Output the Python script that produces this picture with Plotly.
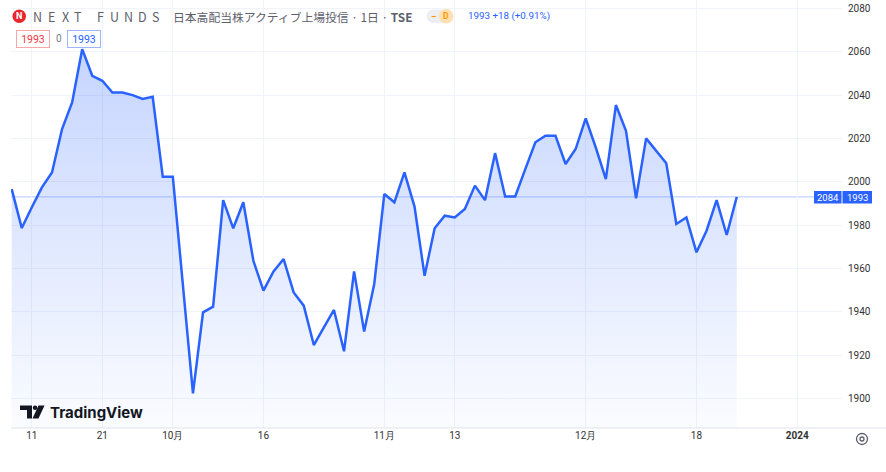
import plotly.graph_objects as go

# ---------------- data ----------------
dates = [
    "2023-09-07", "2023-09-08", "2023-09-11", "2023-09-12", "2023-09-13", "2023-09-14", "2023-09-15",
    "2023-09-19", "2023-09-20", "2023-09-21", "2023-09-22", "2023-09-25", "2023-09-26", "2023-09-27",
    "2023-09-28", "2023-09-29", "2023-10-02", "2023-10-03", "2023-10-04", "2023-10-05", "2023-10-06",
    "2023-10-10", "2023-10-11", "2023-10-12", "2023-10-13", "2023-10-16", "2023-10-17", "2023-10-18",
    "2023-10-19", "2023-10-20", "2023-10-23", "2023-10-24", "2023-10-25", "2023-10-26", "2023-10-27",
    "2023-10-30", "2023-10-31", "2023-11-01", "2023-11-02", "2023-11-06", "2023-11-07", "2023-11-08",
    "2023-11-09", "2023-11-10", "2023-11-13", "2023-11-14", "2023-11-15", "2023-11-16", "2023-11-17",
    "2023-11-20", "2023-11-21", "2023-11-22", "2023-11-24", "2023-11-27", "2023-11-28", "2023-11-29",
    "2023-11-30", "2023-12-01", "2023-12-04", "2023-12-05", "2023-12-06", "2023-12-07", "2023-12-08",
    "2023-12-11", "2023-12-12", "2023-12-13", "2023-12-14", "2023-12-15", "2023-12-18", "2023-12-19",
    "2023-12-20", "2023-12-21", "2023-12-22",
]
future_dates = [
    "2023-12-25", "2023-12-26", "2023-12-27", "2023-12-28", "2023-12-29",
    "2024-01-04", "2024-01-05", "2024-01-09", "2024-01-10", "2024-01-11", "2024-01-12",
]
closes = [
    1996.6, 1978.6, 1988.2, 1997.4, 2004.3, 2024.3, 2036.6,
    2061.2, 2048.9, 2046.6, 2041.2, 2041.2, 2040.0, 2038.2,
    2039.2, 2002.3, 2002.3, 1952.6, 1902.3, 1939.7, 1942.3,
    1991.5, 1978.5, 1990.5, 1963.5, 1949.7, 1958.6, 1964.3,
    1948.9, 1942.8, 1924.6, 1932.8, 1940.8, 1921.7, 1958.6,
    1930.8, 1952.8, 1994.3, 1990.5, 2004.3, 1988.5, 1956.6,
    1978.5, 1984.3, 1983.5, 1987.4, 1998.2, 1991.5, 2013.2,
    1993.2, 1993.2, 2005.8, 2018.2, 2021.2, 2021.2, 2008.2,
    2015.1, 2029.2, 2015.8, 2001.2, 2035.4, 2023.5, 1992.3,
    2020.0, 2014.3, 2008.5, 1980.5, 1983.5, 1967.4, 1977.4,
    1991.5, 1975.4, 1993.0,
]
tick_dates = ["2023-09-11", "2023-09-21", "2023-10-02", "2023-10-16", "2023-11-01",
              "2023-11-13", "2023-12-01", "2023-12-18", "2024-01-04"]
tick_labels = ["11", "21", "10月", "16", "11月", "13", "12月", "18", "<b>2024</b>"]
price_ticks = [1900, 1920, 1940, 1960, 1980, 2000, 2020, 2040, 2060, 2080]
last_price = 1993
countdown_label = "2084"
symbol_title = "日本高配当株アクティブ上場投信 · 1日 · "
exchange = "TSE"
change_text = "1993 +18 (+0.91%)"

# ---------------- geometry helpers (pixel -> paper) ----------------
L, R, T, B = 11, 842, 0, 428
W, H = 886, 472


def PX(x):
    return (x - L) / (R - L)


def PY(y):
    return (B - y) / (B - T)


BLUE = "#2962FF"
FONT = "Noto Sans CJK JP"

fig = go.Figure()
fig.add_trace(go.Scatter(
    x=dates, y=closes, mode="lines",
    line=dict(color=BLUE, width=2.5),
    fill="tozeroy",
    fillgradient=dict(type="vertical",
                      colorscale=[[0, "rgba(41,98,255,0.02)"], [1, "rgba(41,98,255,0.27)"]],
                      start=1886, stop=2062),
    hoverinfo="skip", showlegend=False,
))

shapes = []
annotations = []

# last price line
shapes.append(dict(type="line", xref="paper", yref="y", x0=0, x1=1, y0=last_price, y1=last_price,
                   line=dict(color="rgba(41,98,255,0.35)", width=1), layer="below"))
# bottom time-scale border
shapes.append(dict(type="line", xref="paper", yref="paper", x0=PX(11), x1=PX(886), y0=PY(428), y1=PY(428),
                   line=dict(color="#e0e3eb", width=1)))

# header: logo
shapes.append(dict(type="circle", xref="paper", yref="paper",
                   x0=PX(12.5), x1=PX(26), y0=PY(9.5), y1=PY(23),
                   fillcolor="#e8262d", line=dict(width=0)))
annotations.append(dict(text="<b>N</b>", x=PX(19.3), y=PY(16.3), xref="paper", yref="paper",
                        showarrow=False, font=dict(family="Roboto", size=9, color="white"),
                        xanchor="center", yanchor="middle"))
for ch, cx in zip("NEXTFUNDS", [37, 51, 65, 78, 100, 114, 128, 142, 155]):
    annotations.append(dict(text=ch, x=PX(cx), y=PY(16), xref="paper", yref="paper", showarrow=False,
                            font=dict(family=FONT, size=12.5, color="#5d606b"),
                            xanchor="center", yanchor="middle"))
annotations.append(dict(text=symbol_title + "<b>" + exchange + "</b>", x=PX(171), y=PY(16),
                        xref="paper", yref="paper", showarrow=False,
                        font=dict(family=FONT, size=11.8, color="#5d606b"),
                        xanchor="left", yanchor="middle"))
# pill
shapes.append(dict(type="path", xref="paper", yref="paper",
                   path=(f"M {PX(433)} {PY(9.5)} L {PX(446)} {PY(9.5)} L {PX(446)} {PY(23)} "
                         f"L {PX(433)} {PY(23)} Z"),
                   fillcolor="#eceef2", line=dict(width=0)))
shapes.append(dict(type="circle", xref="paper", yref="paper",
                   x0=PX(426.5), x1=PX(440), y0=PY(9.5), y1=PY(23), fillcolor="#eceef2", line=dict(width=0)))
shapes.append(dict(type="circle", xref="paper", yref="paper",
                   x0=PX(439), x1=PX(453.5), y0=PY(9), y1=PY(23.5), fillcolor="#ffe0b0", line=dict(width=0)))
annotations.append(dict(text="<b>−</b>", x=PX(434), y=PY(16), xref="paper", yref="paper", showarrow=False,
                        font=dict(family="Roboto", size=10, color="#ff9800"), xanchor="center", yanchor="middle"))
annotations.append(dict(text="<b>D</b>", x=PX(446.3), y=PY(16.3), xref="paper", yref="paper", showarrow=False,
                        font=dict(family="Roboto", size=8.5, color="#ff9800"), xanchor="center", yanchor="middle"))
annotations.append(dict(text=change_text, x=PX(466), y=PY(16), xref="paper", yref="paper", showarrow=False,
                        font=dict(family="Roboto", size=9.8, color=BLUE), xanchor="left", yanchor="middle"))

# second row boxes
annotations.append(dict(text=str(last_price), x=PX(33.3), y=PY(38.5), xref="paper", yref="paper",
                        showarrow=False, font=dict(family="Roboto", size=10.5, color="#f23645"),
                        bgcolor="white", bordercolor="#f7a7a7", borderwidth=1, borderpad=1,
                        width=30, height=14, xanchor="center", yanchor="middle"))
annotations.append(dict(text="0", x=PX(58.5), y=PY(38.5), xref="paper", yref="paper", showarrow=False,
                        font=dict(family="Roboto", size=10, color="#787b86"), xanchor="center", yanchor="middle"))
annotations.append(dict(text=str(last_price), x=PX(83.5), y=PY(38.5), xref="paper", yref="paper",
                        showarrow=False, font=dict(family="Roboto", size=10.5, color=BLUE),
                        bgcolor="white", bordercolor="#9fb6ff", borderwidth=1, borderpad=1,
                        width=30, height=14, xanchor="center", yanchor="middle"))

# right side price labels
shapes.append(dict(type="rect", xref="paper", yref="paper", x0=PX(814), x1=PX(841.5), y0=PY(191), y1=PY(203.5),
                   fillcolor=BLUE, line=dict(width=0)))
shapes.append(dict(type="rect", xref="paper", yref="paper", x0=PX(842.5), x1=PX(872), y0=PY(191), y1=PY(203.5),
                   fillcolor=BLUE, line=dict(width=0)))
annotations.append(dict(text=countdown_label, x=PX(828), y=PY(197.5), xref="paper", yref="paper",
                        showarrow=False, font=dict(family="Roboto", size=9.5, color="white"),
                        xanchor="center", yanchor="middle"))
annotations.append(dict(text=str(last_price), x=PX(857), y=PY(197.5), xref="paper", yref="paper",
                        showarrow=False, font=dict(family="Roboto", size=9.5, color="white"),
                        xanchor="center", yanchor="middle"))

# TradingView watermark logo
shapes.append(dict(type="path", xref="paper", yref="paper",
                   path=(f"M {PX(20)} {PY(405.5)} L {PX(32)} {PY(405.5)} L {PX(32)} {PY(418.5)} "
                         f"L {PX(27)} {PY(418.5)} L {PX(27)} {PY(410)} L {PX(20)} {PY(410)} Z"),
                   fillcolor="#131722", line=dict(width=0)))
shapes.append(dict(type="circle", xref="paper", yref="paper",
                   x0=PX(32.8), x1=PX(37.3), y0=PY(405.5), y1=PY(410), fillcolor="#131722", line=dict(width=0)))
shapes.append(dict(type="path", xref="paper", yref="paper",
                   path=(f"M {PX(38.5)} {PY(405.5)} L {PX(44.5)} {PY(405.5)} L {PX(38.5)} {PY(418.5)} "
                         f"L {PX(32.5)} {PY(418.5)} Z"),
                   fillcolor="#131722", line=dict(width=0)))
annotations.append(dict(text="<b>TradingView</b>", x=PX(48), y=PY(412), xref="paper", yref="paper",
                        showarrow=False, font=dict(family="Inter", size=15, color="#131722"),
                        xanchor="left", yanchor="middle"))

# settings gear icon
shapes.append(dict(type="circle", xref="paper", yref="paper", x0=PX(856.5), x1=PX(867.5), y0=PY(433.5), y1=PY(444.5),
                   line=dict(color="#5d606b", width=1.3), fillcolor="rgba(0,0,0,0)"))
shapes.append(dict(type="circle", xref="paper", yref="paper", x0=PX(860), x1=PX(864), y0=PY(437), y1=PY(441),
                   line=dict(color="#5d606b", width=1.3), fillcolor="rgba(0,0,0,0)"))

fig.update_layout(
    width=W, height=H,
    margin=dict(l=L, r=W - R, t=T, b=H - B, pad=0),
    paper_bgcolor="white", plot_bgcolor="white",
    font=dict(family=FONT, size=10, color="#333"),
    shapes=shapes, annotations=annotations,
    showlegend=False,
    xaxis=dict(
        type="category", categoryorder="array", categoryarray=dates + future_dates,
        range=[-0.07, 82.45],
        tickmode="array", tickvals=tick_dates, ticktext=tick_labels,
        showgrid=True, gridcolor="#f0f3fa", gridwidth=1,
        showline=False, zeroline=False, ticks="",
        tickfont=dict(family="Roboto", size=10, color="#333"),
        fixedrange=True,
    ),
    yaxis=dict(
        side="right", range=[1886.3, 2083.9],
        tickmode="array", tickvals=price_ticks,
        showgrid=True, gridcolor="#f0f3fa", gridwidth=1,
        showline=False, zeroline=False, ticks="",
        ticklabelstandoff=5,
        tickfont=dict(family="Roboto", size=10, color="#333"),
        fixedrange=True,
    ),
)

fig.write_html(
    "out.html",
    config={"displayModeBar": False, "staticPlot": True},
    post_script="document.body.style.margin='0px';document.body.style.overflow='hidden';",
)
